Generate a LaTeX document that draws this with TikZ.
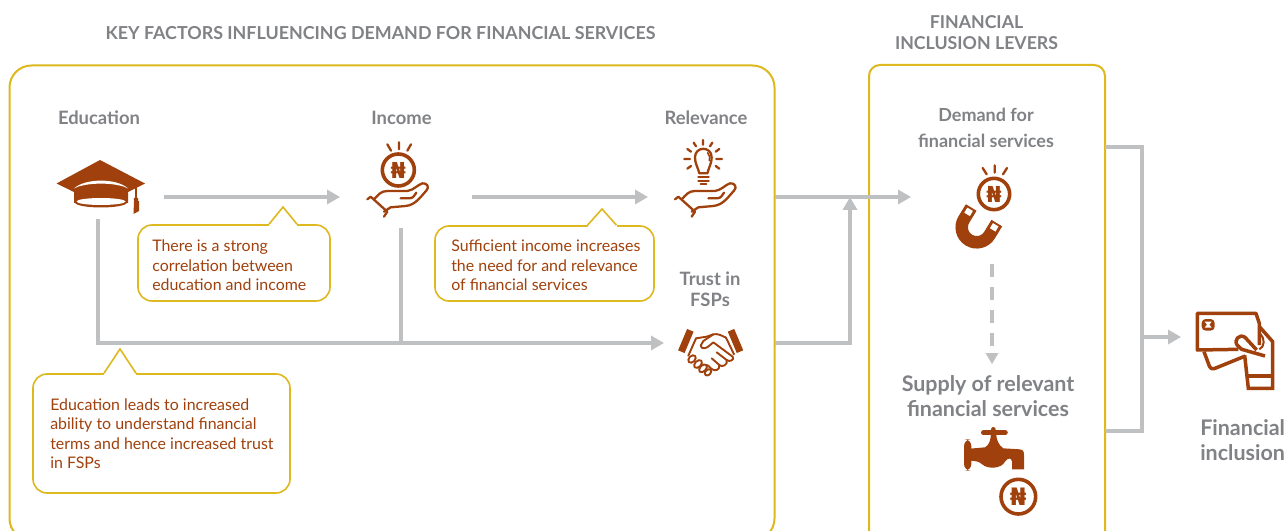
\documentclass[tikz,border=0pt]{standalone}
\usepackage{fontspec}
\setmainfont{Lato}
\newfontfamily\nairafont{DejaVu Sans}
\usetikzlibrary{arrows.meta}
\definecolor{brownc}{HTML}{A0410D}
\definecolor{goldc}{HTML}{DDB81E}
\definecolor{graytxt}{HTML}{808285}
\definecolor{grayln}{HTML}{BFC0C2}
\tikzset{
  lw/.style={line width=#1*0.75pt},
  frame/.style={draw=goldc,lw=2,rounded corners=#1,inner sep=0pt},
  callout/.style={draw=goldc,lw=1.6,rounded corners=10.5pt,fill=white,inner sep=0pt},
  note/.style={inner sep=0pt,anchor=west,align=left,text=brownc,font=\fontsize{11.95}{14.6}\selectfont},
  pointer/.style={draw=goldc,lw=1.6,line join=miter},
  slot/.style={inner sep=0pt,outer sep=0pt},
  head/.style 2 args={text=graytxt,font=\bfseries\fontsize{#1}{#2}\selectfont,align=center,inner sep=0pt},
  flow/.style={draw=grayln,lw=4.5,-{Triangle[length=9.75pt,width=10.5pt]}},
  plain/.style={draw=grayln,lw=4.5},
  ico/.style={draw=brownc,lw=2.3,line cap=round,line join=round},
  coinring/.style={draw=brownc,lw=3.6},
  nairat/.style={text=brownc,inner sep=0pt,font=\nairafont\bfseries\fontsize{#1}{#1}\selectfont},
}
\newcommand{\handshape}{%
  \draw[ico] (45,208)--(55,200) (55,200)--(105,245) (105,245)--(95,260);
  \draw[ico] (65,208) .. controls (78,195) and (85,183) .. (105,183) -- (165,183)
     .. controls (185,180) and (195,165) .. (210,160)
     .. controls (225,158) and (232,172) .. (222,182)
     .. controls (205,200) and (190,225) .. (160,228) -- (115,232) -- (95,245);
  \draw[ico] (145,205) -- (172,205) .. controls (182,205) and (188,195) .. (192,188);
}
\begin{document}
\begin{tikzpicture}[x=0.75pt,y=-0.75pt]
\clip (0,0) rectangle (1285,531);
\fill[white] (0,0) rectangle (1285,531);

% frames
\node[frame=16.5pt,minimum width=765*0.75pt,minimum height=475*0.75pt] (fac) at (392,303) {};
\node[frame=8.25pt,minimum width=236*0.75pt,minimum height=500*0.75pt] (lev) at (987,315) {};

% titles
\node[head={13.4}{15.75}] (t1) at (380.5,33) {KEY FACTORS INFLUENCING DEMAND FOR FINANCIAL SERVICES};
\node[head={13.3}{15.75}] (t2) at (976.5,32.5) {FINANCIAL\\INCLUSION LEVERS};
\node[head={13.8}{15.75}] (h1) at (99,117.5) {Education};
\node[head={13.8}{15.75}] (h2) at (401.5,117.5) {Income};
\node[head={13.8}{15.75}] (h3) at (706,117.5) {Relevance};
\node[head={13.8}{15.75}] (h4) at (710,289) {Trust in\\FSPs};
\node[head={13.5}{19.2}] (h5) at (986,128) {Demand for\\financial services};
\node[head={16.1}{18.75}] (sup) at (988,396) {Supply of relevant\\financial services};
\node[head={16.1}{18.75},align=left,anchor=west] (h6) at (1200,440.5) {Financial\\inclusion};

% icon slots
\node[slot,minimum width=132*0.75pt,minimum height=62*0.75pt] (edu) at (98,188) {};
\node[slot,minimum width=132*0.75pt,minimum height=62*0.75pt] (inc) at (406,197) {};
\node[slot,minimum width=127*0.75pt,minimum height=62*0.75pt] (rel) at (711.5,197) {};
\node[slot,minimum width=111*0.75pt,minimum height=56*0.75pt] (tru) at (719.5,343) {};
\node[slot,minimum width=162*0.75pt,minimum height=134*0.75pt] (dem) at (992,197) {};
\node[slot,minimum width=60*0.75pt,minimum height=0pt] (sp) at (992,364) {};
\coordinate (jinc) at (401,343);
\coordinate (mrg) at (850,197);
\coordinate (rt) at (1105,147);
\coordinate (rb) at (1105,431);
\node[slot,minimum width=60*0.75pt,minimum height=60*0.75pt] (fin) at (1211,337) {};
\coordinate (rj) at (1142,337);

% connectors
\draw[flow] (edu.east |- inc.west) -- (inc.west);
\draw[flow] (inc.east) -- (rel.west);
\draw[flow,line join=miter] (edu.south) -- (edu.south |- tru.west) -- (tru.west);
\draw[plain] (jinc |- inc.south) -- (jinc);
\draw[flow] (rel.east) -- (dem.west);
\draw[flow,line join=miter] (tru.east) -| (mrg);
\draw[draw=grayln,lw=4.5,dash pattern=on 9.75pt off 7.5pt] (dem.south) -- ([yshift=13.5pt]sp.center);
\fill[grayln] (sp.center) -- ++(-6.5,-11) -- ++(13,0) -- cycle;
\draw[plain,line join=miter] (rt) -- (rt -| rj) -- (rb -| rj) -- (rb);
\draw[flow] (rj) -- (fin.west);

% callouts
\node[callout,minimum width=192*0.75pt,minimum height=76*0.75pt] (c1) at (234,263) {};
\coordinate (a1) at (283,207);
\fill[white] ([xshift=-14*0.75pt]a1 |- c1.north) -- (a1) -- ([xshift=14*0.75pt]a1 |- c1.north) -- cycle;
\draw[white,lw=3.5] ([xshift=-14*0.75pt]a1 |- c1.north) -- ([xshift=14*0.75pt]a1 |- c1.north);
\draw[pointer] ([xshift=-14*0.75pt]a1 |- c1.north) -- (a1) -- ([xshift=14*0.75pt]a1 |- c1.north);
\node[note] (c1t) at (152,265.5) {There is a strong\\correlation between\\education and income};
\node[callout,minimum width=219*0.75pt,minimum height=75*0.75pt] (c2) at (544.5,263.5) {};
\coordinate (a2) at (602,209);
\fill[white] ([xshift=-14.5*0.75pt]a2 |- c2.north) -- (a2) -- ([xshift=14.5*0.75pt]a2 |- c2.north) -- cycle;
\draw[white,lw=3.5] ([xshift=-14.5*0.75pt]a2 |- c2.north) -- ([xshift=14.5*0.75pt]a2 |- c2.north);
\draw[pointer] ([xshift=-14.5*0.75pt]a2 |- c2.north) -- (a2) -- ([xshift=14.5*0.75pt]a2 |- c2.north);
\node[note] (c2t) at (451,265.5) {Sufficient income increases\\the need for and relevance\\of financial services};
\node[callout,minimum width=257*0.75pt,minimum height=119*0.75pt] (c3) at (161.5,433.5) {};
\coordinate (a3) at (120,349);
\fill[white] ([xshift=-16*0.75pt]a3 |- c3.north) -- (a3) -- ([xshift=16*0.75pt]a3 |- c3.north) -- cycle;
\draw[white,lw=3.5] ([xshift=-16*0.75pt]a3 |- c3.north) -- ([xshift=16*0.75pt]a3 |- c3.north);
\draw[pointer] ([xshift=-16*0.75pt]a3 |- c3.north) -- (a3) -- ([xshift=16*0.75pt]a3 |- c3.north);
\node[note] (c3t) at (50,433.5) {Education leads to increased\\ability to understand financial\\terms and hence increased trust\\in FSPs};

% graduation cap
\fill[brownc] (100,160) -- (145,183.5) -- (128,192) -- (128,203) -- (74,203) -- (74,192) -- (56.5,183.5) -- cycle;
\fill[white] (74,188.5) .. controls (85,178) and (117,178) .. (128,188.5) .. controls (117,182) and (85,182) .. cycle;
\fill[brownc] (101,202.5) ellipse[x radius=26,y radius=5];
\fill[white] (101,201.5) ellipse[x radius=24.5,y radius=3.5];
\draw[brownc,lw=1.2] (136,186) -- (136,198);
\fill[brownc] (136,199.5) circle[radius=2.3];
\fill[brownc] (134,201) -- (139,201) -- (139,211) -- (133.5,214) -- cycle;

% income icon
\begin{scope}[shift={(350,90)},scale=1/3]
  \draw[coinring] (145,240) circle[radius=48];
  \node[nairat=16.5] (n1) at (145,240) {₦};
  \draw[ico] (147,157)--(147,178) (112,163)--(123,182) (183,163)--(172,182);
\end{scope}
\begin{scope}[shift={(352.3,130)},scale=1/3]\handshape\end{scope}

% relevance icon
\begin{scope}[shift={(660,130)},scale=1/3]\handshape
  \draw[ico] (118,130) .. controls (112,108) and (105,100) .. (105,82)
     .. controls (105,48) and (155,48) .. (155,82)
     .. controls (155,100) and (148,108) .. (142,130) -- cycle;
  \draw[ico,lw=1.5] (143,68) .. controls (150,75) and (150,85) .. (148,92);
  \draw[ico] (115,142)--(146,142) (115,152)--(146,152) (122,163)--(139,163);
  \draw[ico] (129,30)--(129,44) (101,38)--(108,49) (157,38)--(150,49)
     (82,57)--(93,65) (178,57)--(167,65) (73,87)--(90,87) (169,87)--(186,87)
     (82,116)--(93,108) (178,116)--(167,108);
\end{scope}

% handshake icon
\begin{scope}[shift={(670,315)},scale=1/3]
  \draw[brownc,lw=7] (61,46)--(34,110) (183,46)--(210,110);
  \draw[ico,lw=1.9] (78,70) -- (110,65) -- (130,58) .. controls (145,55) and (155,62) .. (168,68);
  \draw[ico,lw=1.9] (130,58) -- (100,78) -- (92,92) .. controls (95,105) and (110,100) .. (118,92) -- (130,82) -- (188,125) .. controls (195,135) and (178,142) .. (170,135) -- (140,112);
  \draw[ico,lw=1.9] (170,135) .. controls (175,150) and (155,158) .. (148,150) -- (125,130);
  \draw[ico,lw=1.9] (148,150) .. controls (150,165) and (135,170) .. (125,162) -- (112,150);
  \draw[ico,lw=1.9] (168,68) -- (192,118);
  \draw[ico,lw=1.9] (78,70) -- (55,122);
  \draw[ico,lw=1.9,rotate around={45:(66,132)}] (66,132) ellipse[x radius=13,y radius=9];
  \draw[ico,lw=1.9,rotate around={45:(84,147)}] (84,147) ellipse[x radius=14,y radius=9];
  \draw[ico,lw=1.9,rotate around={45:(99,160)}] (99,160) ellipse[x radius=14,y radius=9];
  \draw[ico,lw=1.9,rotate around={45:(114,172)}] (114,172) ellipse[x radius=11,y radius=8];
\end{scope}

% magnet icon
\draw[brownc,lw=12.5] (971.2,207.5) -- (963.9,219.5) arc[start angle=211.3,end angle=31.3,radius=15] -- (996.8,223.1);
\draw[white,lw=6.5] (967.1,214.4) -- (970.1,209.3);
\draw[white,lw=6.5] (992.7,229.9) -- (995.7,224.8);
\begin{scope}[shift={(900,150)},scale=1/3]
  \draw[coinring] (282,132) circle[radius=47];
  \node[nairat=16.5] (n2) at (282,132) {₦};
  \draw[ico] (284,46)--(284,68) (248,54)--(260,73) (321,54)--(309,73);
\end{scope}

% faucet icon
\begin{scope}[shift={(940,410)},scale=1/3]
  \fill[brownc,rounded corners=5pt] (72,88) -- (94,88) -- (94,182) -- (72,182) -- cycle;
  \fill[brownc] (90,116) -- (135,112) .. controls (148,105) and (152,90) .. (153,70) -- (168,70) .. controls (170,90) and (175,105) .. (190,115)
     -- (240,118) .. controls (250,120) and (252,125) .. (252,135) -- (252,178) -- (216,178) -- (216,155)
     .. controls (215,145) and (205,140) .. (195,155) .. controls (185,175) and (145,180) .. (125,162) .. controls (118,155) and (105,152) .. (90,152) -- cycle;
  \draw[brownc,lw=5.5,line cap=round] (131,68) -- (195,68);
  \fill[brownc] (160,58) circle[radius=7];
  \draw[coinring] (235,260) circle[radius=52];
  \node[nairat=18] (n3) at (235,260) {₦};
\end{scope}

% card and hand icon
\begin{scope}[shift={(1100,290)},scale=1/3]
  \fill[brownc,rounded corners=3pt] (305,87) rectangle (344,122);
  \fill[white] (314,95) -- (335,95) -- (328,104) -- (335,113) -- (314,113) -- (321,104) -- cycle;
  \draw[brownc,lw=3.5,line join=miter] (480,112) -- (518,155) -- (518,295) -- (445,295) -- (434,196);
  \draw[brownc,lw=3.5] (445,258) -- (518,258);
  \draw[brownc,lw=3.5,line join=round] (415,178) -- (292,180) -- (292,70) -- (468,70) -- (478,100) -- (478,165);
  \draw[brownc,lw=3.5,line join=round] (495,198) -- (425,178) -- (412,166) .. controls (400,150) and (418,130) .. (435,142) -- (470,180);
  \draw[brownc,lw=2,line join=round] (480,130) .. controls (495,145) and (495,170) .. (478,178);
  \draw[brownc,lw=3.5,line join=round] (312,185) -- (328,228) .. controls (332,238) and (340,238) .. (350,233) -- (436,198);
\end{scope}
\end{tikzpicture}
\end{document}
